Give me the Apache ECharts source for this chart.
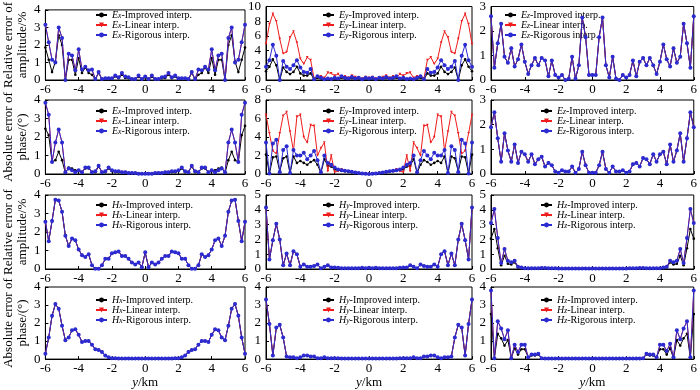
<!DOCTYPE html>
<html>
<head>
<meta charset="utf-8">
<script src="https://cdn.jsdelivr.net/npm/echarts@6/dist/echarts.min.js"></script>
<style>html,body{margin:0;padding:0;background:#fff}#chart{width:700px;height:390px}</style>
</head>
<body>
<div id="chart"></div>
<script>
// y/km positions of the stations
var yKm = [-6,-5.8,-5.6,-5.4,-5.2,-5,-4.8,-4.6,-4.4,-4.2,-4,-3.8,-3.6,-3.4,-3.2,-3,-2.8,-2.6,-2.4,-2.2,-2,-1.8,-1.6,-1.4,-1.2,-1,-0.8,-0.6,-0.4,-0.2,0,
  0.2,0.4,0.6,0.8,1,1.2,1.4,1.6,1.8,2,2.2,2.4,2.6,2.8,3,3.2,3.4,3.6,3.8,4,4.2,4.4,4.6,4.8,5,5.2,5.4,5.6,5.8,6];

// Ex amplitude
var exAmpImp = [1.85,1.15,0.45,1.05,2.55,2.0,0.0,1.15,1.15,0.3,1.25,0.4,0.7,0.4,0.3,0.03,0.4,0.03,0.08,0.08,0.05,0.2,0.1,0.3,0.12,0.1,0.03,0.03,0.18,0.03,0.15,
  0.03,0.18,0.03,0.03,0.1,0.12,0.3,0.1,0.2,0.05,0.08,0.08,0.03,0.4,0.03,0.3,0.4,0.7,0.4,1.25,0.3,1.15,1.15,0.0,2.0,2.55,1.05,0.45,1.15,1.85];
var exAmpRig = [3.15,2.15,1.15,1.0,3.0,2.4,0.0,1.5,1.4,0.55,1.75,0.6,0.75,0.55,0.6,0.05,0.45,0.05,0.1,0.1,0.1,0.25,0.15,0.4,0.2,0.15,0.05,0.05,0.25,0.05,0.2,
  0.05,0.25,0.05,0.05,0.15,0.2,0.4,0.15,0.25,0.1,0.1,0.1,0.05,0.45,0.05,0.6,0.55,0.75,0.6,1.75,0.55,1.4,1.5,0.0,2.4,3.0,1.0,1.15,2.15,3.15];
// Ey amplitude
var eyAmpImp = [1.2,1.8,2.8,2.0,0.0,1.7,1.1,0.8,1.1,1.8,0.9,0.6,0.6,0.9,0.05,0.3,0.2,0.05,0.1,0.1,0.2,0.1,0.3,0.2,0.1,0.25,0.1,0.2,0.05,0.2,0.1,
  0.2,0.05,0.2,0.1,0.25,0.1,0.2,0.3,0.1,0.2,0.1,0.1,0.05,0.2,0.3,0.05,0.9,0.6,0.6,0.9,1.8,1.1,0.8,1.1,1.7,0.0,2.0,2.8,1.8,1.2];
var eyAmpLin = [4.9,7.6,9.0,8.0,5.6,3.6,3.8,5.8,6.6,5.1,2.9,2.2,3.1,2.7,0.2,0.5,0.5,0.3,1.0,0.9,0.6,0.8,0.4,0.5,0.3,0.6,0.4,0.3,0.2,0.4,0.3,
  0.4,0.2,0.3,0.4,0.6,0.3,0.5,0.4,0.8,0.6,0.9,1.0,0.3,0.5,0.5,0.2,2.7,3.1,2.2,2.9,5.1,6.6,5.8,3.8,3.6,5.6,8.0,9.0,7.6,4.9];
var eyAmpRig = [1.8,2.7,4.8,3.3,0.0,2.6,1.8,1.5,2.0,2.7,1.7,1.1,1.0,1.5,0.1,0.5,0.3,0.1,0.2,0.15,0.3,0.2,0.5,0.3,0.2,0.4,0.2,0.3,0.1,0.3,0.2,
  0.3,0.1,0.3,0.2,0.4,0.2,0.3,0.5,0.2,0.3,0.15,0.2,0.1,0.3,0.5,0.1,1.5,1.0,1.1,1.7,2.7,2.0,1.5,1.8,2.6,0.0,3.3,4.8,2.7,1.8];
// Ez amplitude (all three curves coincide)
var ezAmp = [2.6,0.5,1.5,2.3,0.95,0.7,1.3,0.55,0.85,1.45,0.75,0.25,0.6,0.9,0.6,0.9,0.8,0.15,0.8,0.2,0.1,0.2,0.0,0.05,0.95,0.05,0.6,2.55,1.75,0.2,0.2,
  0.2,1.75,2.55,0.6,0.1,0.95,0.05,0.0,0.2,0.1,0.2,0.8,0.15,0.75,0.9,0.6,0.9,0.6,0.25,0.75,1.45,0.85,0.55,1.3,0.7,0.95,2.3,1.5,0.5,2.6];

// Ex phase
var exPhaImp = [2.45,2.1,0.65,0.75,1.2,0.75,0.05,0.35,0.3,0.2,0.15,0.1,0.3,0.3,0.1,0.1,0.4,0.1,0.1,0.3,0.15,0.1,0.1,0.08,0.08,0.05,0.05,0.04,0.02,0.02,0.02,
  0.02,0.02,0.04,0.05,0.05,0.08,0.08,0.1,0.1,0.15,0.3,0.1,0.1,0.4,0.1,0.1,0.3,0.3,0.1,0.15,0.2,0.3,0.35,0.05,0.75,1.2,0.75,0.65,2.1,2.6];
var exPhaRig = [3.85,3.2,0.65,1.7,2.4,1.7,0.1,0.3,0.2,0.1,0.2,0.1,0.35,0.35,0.1,0.15,0.45,0.1,0.15,0.35,0.2,0.15,0.15,0.1,0.1,0.05,0.05,0.05,0.02,0.02,0.02,
  0.02,0.02,0.05,0.05,0.05,0.1,0.1,0.15,0.15,0.2,0.35,0.15,0.1,0.45,0.15,0.1,0.35,0.35,0.1,0.2,0.1,0.2,0.3,0.1,1.7,2.4,1.7,0.65,3.2,3.85];
// Ey phase
var eyPhaImp = [2.1,0.05,1.8,1.9,0.3,1.7,1.9,0.05,1.9,1.2,1.4,1.2,1.0,1.3,1.5,1.0,0.1,1.6,0.9,0.8,0.5,0.4,0.35,0.3,0.25,0.2,0.12,0.08,0.04,0.02,0.0,
  0.02,0.04,0.08,0.12,0.2,0.25,0.3,0.35,0.4,0.5,0.8,0.9,1.6,0.1,1.0,1.5,1.3,1.0,1.2,1.4,1.2,1.9,0.05,1.9,1.7,0.3,1.9,1.8,0.05,2.1];
var eyPhaLin = [6.4,4.4,2.5,2.2,4.4,6.3,6.7,4.6,2.5,6.2,6.4,4.0,3.4,5.3,5.2,2.0,2.8,3.4,0.3,2.0,0.2,0.3,0.5,0.35,0.3,0.2,0.15,0.1,0.05,0.02,0.0,
  0.02,0.05,0.1,0.15,0.2,0.3,0.35,0.5,0.3,0.2,2.0,0.3,3.4,2.8,2.0,5.2,5.3,3.4,4.0,6.4,6.2,2.5,4.6,6.7,6.3,4.4,2.2,2.5,4.4,6.4];
var eyPhaRig = [3.4,0.05,3.3,3.7,0.2,2.6,3.0,0.1,2.6,2.0,2.0,2.3,1.6,2.0,2.5,1.5,0.2,2.0,1.2,1.0,0.7,0.5,0.4,0.35,0.3,0.25,0.15,0.1,0.05,0.02,0.0,
  0.02,0.05,0.1,0.15,0.25,0.3,0.35,0.4,0.5,0.7,1.0,1.2,2.0,0.2,1.5,2.5,2.0,1.6,2.3,2.0,2.0,2.6,0.1,3.0,2.6,0.2,3.7,3.3,0.05,3.4];
// Ez phase
var ezPha = [1.9,2.5,1.45,0.5,1.65,0.95,0.5,1.2,0.45,0.9,0.8,0.5,0.8,0.4,0.6,0.7,0.3,0.45,0.35,0.1,0.05,0.15,0.1,0.1,0.3,0.05,0.2,0.9,0.35,0.05,0.05,
  0.05,0.35,0.9,0.2,0.05,0.3,0.1,0.1,0.15,0.05,0.1,0.4,0.45,0.3,0.65,0.6,0.4,0.8,0.5,0.8,0.9,0.4,1.2,0.5,0.95,1.65,0.5,1.45,2.5,1.9];

// Hx amplitude
var hxAmp = [2.55,1.5,2.6,3.75,3.7,3.1,1.8,1.25,1.65,1.55,1.05,0.75,0.65,0.8,0.2,0.02,0.02,0.2,0.55,0.55,0.85,0.9,0.95,0.7,0.7,0.55,0.35,0.25,0.35,0.1,0.9,
  0.1,0.35,0.25,0.35,0.55,0.7,0.7,0.95,0.9,0.85,0.55,0.55,0.2,0.02,0.02,0.2,0.8,0.65,0.75,1.05,1.55,1.65,1.25,1.8,3.1,3.7,3.75,2.6,1.5,2.55];
// Hy amplitude
var hyAmp = [4.15,0.65,1.95,3.05,2.0,0.25,1.05,0.25,1.2,1.0,0.15,0.3,0.15,0.15,0.2,0.3,0.05,0.15,0.25,0.1,0.1,0.08,0.05,0.05,0.05,0.05,0.05,0.05,0.08,0.05,0.08,
  0.05,0.08,0.05,0.05,0.05,0.05,0.05,0.05,0.08,0.1,0.1,0.25,0.15,0.05,0.3,0.2,0.15,0.15,0.3,0.15,1.0,1.2,0.25,1.05,0.25,2.0,3.05,1.95,0.65,4.15];
// Hz amplitude
var hzAmpImp = [2.05,2.7,1.4,0.25,0.9,0.35,0.3,0.45,0.1,0.05,0.03,0.03,0.03,0.03,0.03,0.03,0.03,0.03,0.03,0.03,0.03,0.03,0.03,0.03,0.03,0.03,0.03,0.03,0.03,0.03,0.03,
  0.03,0.03,0.03,0.03,0.03,0.03,0.03,0.03,0.03,0.03,0.03,0.03,0.03,0.03,0.03,0.03,0.03,0.03,0.03,0.03,0.05,0.1,0.45,0.3,0.35,0.9,0.25,1.4,2.7,2.05];
var hzAmpRig = [3.1,4.05,2.1,0.4,1.35,0.55,0.45,0.55,0.15,0.1,0.05,0.05,0.05,0.05,0.05,0.06,0.06,0.05,0.05,0.05,0.04,0.04,0.04,0.04,0.04,0.04,0.04,0.04,0.04,0.04,0.04,
  0.04,0.04,0.04,0.04,0.04,0.04,0.04,0.04,0.04,0.04,0.05,0.05,0.05,0.06,0.06,0.05,0.05,0.05,0.05,0.05,0.1,0.15,0.55,0.45,0.55,1.35,0.4,2.1,4.05,3.1];

// Hx phase
var hxPha = [0.3,1.2,2.4,3.05,2.8,1.85,1.05,1.2,1.6,1.65,1.35,0.95,1.0,1.0,0.8,0.55,0.5,0.4,0.2,0.1,0.05,0.05,0.04,0.03,0.03,0.03,0.03,0.03,0.03,0.03,0.03,
  0.03,0.03,0.03,0.03,0.03,0.03,0.03,0.04,0.05,0.05,0.1,0.2,0.4,0.5,0.55,0.8,1.0,1.0,0.95,1.35,1.65,1.6,1.2,1.05,1.85,2.8,3.05,2.4,1.2,0.3];
// Hy phase
var hyPha = [3.3,1.95,0.2,1.75,1.9,1.2,0.15,0.1,0.1,0.05,0.1,0.2,0.2,0.15,0.15,0.05,0.05,0.1,0.05,0.05,0.05,0.05,0.04,0.04,0.03,0.03,0.03,0.03,0.03,0.03,0.03,
  0.03,0.03,0.03,0.03,0.03,0.03,0.04,0.04,0.05,0.05,0.05,0.05,0.1,0.05,0.05,0.15,0.15,0.2,0.2,0.1,0.05,0.1,0.1,0.15,1.2,1.9,1.75,0.2,1.95,3.3];
// Hz phase
var hzPhaImp = [2.5,0.05,1.4,1.15,0.75,1.05,0.05,0.6,0.25,0.55,0.55,0.1,0.2,0.2,0.25,0.03,0.03,0.03,0.03,0.03,0.03,0.03,0.03,0.03,0.03,0.03,0.03,0.03,0.03,0.03,0.03,
  0.03,0.03,0.03,0.03,0.03,0.03,0.03,0.03,0.03,0.03,0.03,0.03,0.03,0.03,0.03,0.25,0.2,0.2,0.1,0.55,0.55,0.25,0.6,0.05,1.05,0.75,1.15,1.4,0.05,2.5];
var hzPhaRig = [3.8,0.05,2.1,1.7,1.1,1.6,0.05,0.8,0.4,0.8,0.8,0.1,0.25,0.25,0.3,0.05,0.04,0.04,0.04,0.04,0.04,0.04,0.04,0.04,0.04,0.04,0.04,0.04,0.04,0.04,0.04,
  0.04,0.04,0.04,0.04,0.04,0.04,0.04,0.04,0.04,0.04,0.04,0.04,0.04,0.04,0.05,0.3,0.25,0.25,0.1,0.8,0.8,0.45,0.85,0.1,1.6,1.1,1.7,2.1,0.1,3.8];

var methods = ['Improved', 'Linear', 'Rigorous'];
var yNames = ['Relative error of\namplitude/%', 'Absolute error of\nphase/(°)', 'Relative error of\namplitude/%', 'Absolute error of\nphase/(°)'];

// one row per figure row: field letter, component, curves, y max, y step
var panels = [
  [{f:'E',c:'x',d:[exAmpImp,exAmpRig,exAmpRig],max:4,step:1},{f:'E',c:'y',d:[eyAmpImp,eyAmpLin,eyAmpRig],max:10,step:2},{f:'E',c:'z',d:[ezAmp,ezAmp,ezAmp],max:3,step:1}],
  [{f:'E',c:'x',d:[exPhaImp,exPhaRig,exPhaRig],max:4,step:1},{f:'E',c:'y',d:[eyPhaImp,eyPhaLin,eyPhaRig],max:8,step:2},{f:'E',c:'z',d:[ezPha,ezPha,ezPha],max:3,step:1}],
  [{f:'H',c:'x',d:[hxAmp,hxAmp,hxAmp],max:4,step:1},{f:'H',c:'y',d:[hyAmp,hyAmp,hyAmp],max:5,step:1},{f:'H',c:'z',d:[hzAmpImp,hzAmpRig,hzAmpRig],max:5,step:1}],
  [{f:'H',c:'x',d:[hxPha,hxPha,hxPha],max:4,step:1},{f:'H',c:'y',d:[hyPha,hyPha,hyPha],max:4,step:1},{f:'H',c:'z',d:[hzPhaImp,hzPhaRig,hzPhaRig],max:4,step:1}]
];

var colLeft = [39, 266, 491], colW = 206;
var rowTop = [5, 100, 195, 287], rowH = [75, 74, 74, 74];
var legLeft = [[95, 322, 504], [95, 322, 540], [95, 322, 540], [95, 322, 540]];
var legTop = [10, 106, 200, 295];

var font = 'Liberation Serif';
var lineCol = ['#000000', '#ee1c1c', '#2b2bd1'];
var symb = ['circle', 'triangle', 'circle'];
var symbSize = [2.6, 2.6, 4];
var symbRot = [0, 180, 0];

var grids = [], xAxes = [], yAxes = [], series = [], legends = [];

function pairs(arr) {
  return yKm.map(function (x, i) { return [x, arr[i]]; });
}

panels.forEach(function (row, r) {
  row.forEach(function (p, c) {
    var idx = r * 3 + c;
    grids.push({left: colLeft[c], top: rowTop[r], width: colW, height: rowH[r],
      show: true, borderColor: '#000', borderWidth: 1, backgroundColor: 'transparent'});
    xAxes.push({
      gridIndex: idx, type: 'value', min: -6, max: 6, interval: 2,
      axisLine: {onZero: false, lineStyle: {color: '#000', width: 1}},
      axisTick: {inside: true, length: 3, lineStyle: {color: '#000'}},
      axisLabel: {color: '#000', fontFamily: font, fontSize: 13, margin: 3},
      splitLine: {show: false},
      name: r === 3 ? '{i|y}/km' : '',
      nameLocation: 'middle', nameGap: 16,
      nameTextStyle: {color: '#000', fontFamily: font, fontSize: 13,
        rich: {i: {fontStyle: 'italic', fontFamily: font, fontSize: 13, color: '#000'}}}
    });
    yAxes.push({
      gridIndex: idx, type: 'value', min: 0, max: p.max, interval: p.step,
      axisLine: {show: true, onZero: false, lineStyle: {color: '#000', width: 1}},
      axisTick: {show: true, inside: true, length: 3, lineStyle: {color: '#000'}},
      axisLabel: {color: '#000', fontFamily: font, fontSize: 13, margin: 5},
      splitLine: {show: false},
      name: c === 0 ? yNames[r] : '',
      nameLocation: 'middle', nameGap: 8, nameRotate: 90,
      nameTextStyle: {color: '#000', fontFamily: font, fontSize: 13, lineHeight: 14.5}
    });
    var names = [];
    methods.forEach(function (m, k) {
      var nm = p.f + p.c + '|' + m;
      names.push(nm);
      series.push({
        type: 'line', name: nm, xAxisIndex: idx, yAxisIndex: idx,
        data: pairs(p.d[k]),
        symbol: symb[k], symbolSize: symbSize[k], symbolRotate: symbRot[k],
        showAllSymbol: true,
        lineStyle: {width: 1, color: lineCol[k]},
        itemStyle: {color: lineCol[k]},
        emphasis: {disabled: true},
        z: 2 + k, animation: false
      });
    });
    legends.push({
      orient: 'vertical', left: legLeft[r][c], top: legTop[r],
      itemWidth: 11, itemHeight: 6, itemGap: 0, padding: 0,
      data: names,
      formatter: function (name) {
        var s = name.split('|');
        return '{it|' + s[0].charAt(0) + '}{sb|' + s[0].charAt(1) + '}{tx|-' + s[1] + ' interp.}';
      },
      textStyle: {
        color: '#000', fontFamily: font, fontSize: 10,
        rich: {
          it: {fontStyle: 'italic', fontFamily: font, fontSize: 10, lineHeight: 9.5, color: '#000'},
          sb: {fontStyle: 'italic', fontFamily: font, fontSize: 7.5, lineHeight: 5, verticalAlign: 'bottom', color: '#000'},
          tx: {fontFamily: font, fontSize: 10, lineHeight: 9.5, color: '#000'}
        }
      }
    });
  });
});

var chart = echarts.init(document.getElementById('chart'), null, {renderer: 'canvas'});
chart.setOption({
  backgroundColor: '#fff',
  animation: false,
  grid: grids,
  xAxis: xAxes,
  yAxis: yAxes,
  legend: legends,
  series: series
});
</script>
</body>
</html>
